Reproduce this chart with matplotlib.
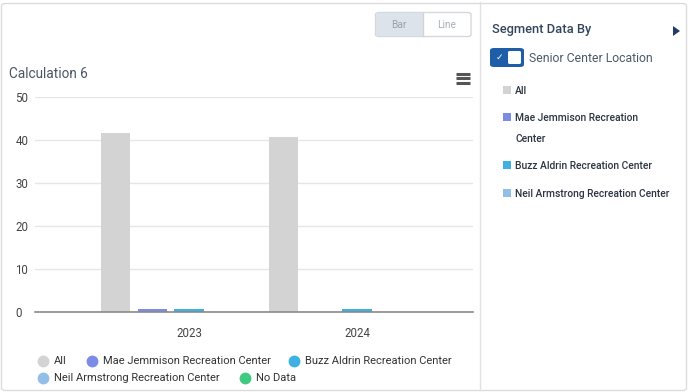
import matplotlib.pyplot as plt
from matplotlib.patches import FancyBboxPatch, Rectangle, Polygon
from matplotlib.lines import Line2D
import numpy as np

plt.rcParams['font.family'] = ['Roboto', 'DejaVu Sans']

# data
years = ['2023', '2024']
series_names = ['All', 'Mae Jemmison Recreation Center', 'Buzz Aldrin Recreation Center',
                'Neil Armstrong Recreation Center', 'No Data']
series_colors = ['#d3d3d3', '#7b8ce6', '#3eb1e2', '#92bfe8', '#3ecb80']
all_vals = [41.7, 40.8]
mae_vals = [0.8, 0]
buzz_vals = [0.8, 0.8]
neil_vals = [0, 0]
nodata_vals = [0, 0]
series_vals = [all_vals, mae_vals, buzz_vals, neil_vals, nodata_vals]
y_ticks = [0, 10, 20, 30, 40, 50]

W, H = 688, 392
fig = plt.figure(figsize=(W / 100, H / 100), dpi=100)


def fx(x):
    return x / W


def fy(y):
    return 1 - y / H


# outer frame + separator
fig.patches.append(FancyBboxPatch((fx(1.5), fy(390.5)), fx(685), 387 / H,
                                  boxstyle='round,pad=0,rounding_size=0.006',
                                  transform=fig.transFigure, fc='none', ec='#dcdcdc', lw=1))
fig.add_artist(Line2D([fx(480), fx(480)], [fy(2), fy(390)], color='#e2e2e2', lw=1))

# chart axes
ax = fig.add_axes([fx(35), fy(312), fx(473 - 35), (312 - 97) / H])
x = np.arange(len(years))
step = 0.22
bw = 0.173
for i, (name, vals, col) in enumerate(zip(series_names, series_vals, series_colors)):
    ax.bar(x + (i - 2) * step, vals, width=bw, color=col, zorder=3)

ax.set_ylim(0, 50)
ax.set_xlim((35 - 189) / 168, (473 - 189) / 168)
ax.set_yticks(y_ticks)
ax.set_xticks(x)
ax.set_xticklabels(years)
ax.grid(axis='y', color='#e6e6e6', lw=1, zorder=0)
for s in ['top', 'right', 'left']:
    ax.spines[s].set_visible(False)
ax.spines['bottom'].set_color('#8a8a8a')
ax.spines['bottom'].set_linewidth(1.2)
ax.spines['bottom'].set_zorder(4)
ax.tick_params(axis='both', length=0, labelsize=8.3, colors='#444444')
ax.tick_params(axis='y', pad=14)
ax.tick_params(axis='x', pad=11)
for lbl in ax.get_yticklabels():
    lbl.set_horizontalalignment('left')
ax.set_facecolor('none')

# title + menu icon
fig.text(fx(9), fy(74), 'Calculation 6', fontsize=9.8, color='#4a5565', va='center', ha='left')
for yy in [73.5, 78, 82.5]:
    fig.add_artist(Line2D([fx(456), fx(470)], [fy(yy), fy(yy)], color='#555555', lw=2.2,
                          solid_capstyle='butt'))

# Bar / Line buttons
fig.patches.append(FancyBboxPatch((fx(375.5), fy(36.5)), fx(95.5), 24 / H,
                                  boxstyle='round,pad=0,rounding_size=0.005',
                                  transform=fig.transFigure, fc='white', ec='#d5d8dc', lw=1))
fig.patches.append(Rectangle((fx(376), fy(36)), fx(47), 23 / H, transform=fig.transFigure,
                             fc='#dde3ea', ec='none'))
fig.add_artist(Line2D([fx(423), fx(423)], [fy(13), fy(36)], color='#d0d4d9', lw=1))
fig.text(fx(399), fy(24.5), 'Bar', fontsize=7.3, color='#9aa3ad', ha='center', va='center')
fig.text(fx(447), fy(24.5), 'Line', fontsize=7.3, color='#a8b0b8', ha='center', va='center')

# bottom legend
legend_items = [
    (0, 43, 361), (1, 92, 361), (2, 294, 361),
    (3, 43, 378), (4, 245, 378),
]
for idx, lx, ly in legend_items:
    fig.add_artist(Line2D([fx(lx)], [fy(ly)], marker='o', ms=7.5, color=series_colors[idx], lw=0))
    fig.text(fx(lx + 11), fy(ly), series_names[idx], fontsize=8.0, color='#333333',
             ha='left', va='center')

# right panel
fig.text(fx(492), fy(30), 'Segment Data By', fontsize=9.3, color='#34465c', ha='left',
         va='center', fontweight='medium')
fig.patches.append(Polygon([[fx(673), fy(26)], [fx(673), fy(36)], [fx(680), fy(31)]],
                           closed=True, transform=fig.transFigure, fc='#1f3c6b', ec='none'))
fig.patches.append(FancyBboxPatch((fx(490), fy(67)), fx(34), 19 / H,
                                  boxstyle='round,pad=0,rounding_size=0.006',
                                  transform=fig.transFigure, fc='#1e5ea8', ec='none'))
fig.patches.append(FancyBboxPatch((fx(508), fy(64)), fx(13), 13 / H,
                                  boxstyle='round,pad=0,rounding_size=0.003',
                                  transform=fig.transFigure, fc='white', ec='none'))
fig.text(fx(499), fy(57.5), '\u2713', fontsize=6.5, color='white', ha='center', va='center',
         family='DejaVu Sans')
fig.text(fx(529), fy(58), 'Senior Center Location', fontsize=8.8, color='#4a5a6c',
         ha='left', va='center')

side_items = [
    (0, 90, ['All']),
    (1, 117, ['Mae Jemmison Recreation', 'Center']),
    (2, 165, ['Buzz Aldrin Recreation Center']),
    (3, 193, ['Neil Armstrong Recreation Center']),
]
for idx, sy, lines in side_items:
    fig.patches.append(Rectangle((fx(503), fy(sy + 4)), fx(8), 8 / H, transform=fig.transFigure,
                                 fc=series_colors[idx], ec='none'))
    for k, t in enumerate(lines):
        fig.text(fx(515), fy(sy + 1 + 21 * k), t, fontsize=7.4, color='#2b3440', ha='left',
                 va='center', fontweight='medium')

fig.savefig('out.png', dpi=100)
